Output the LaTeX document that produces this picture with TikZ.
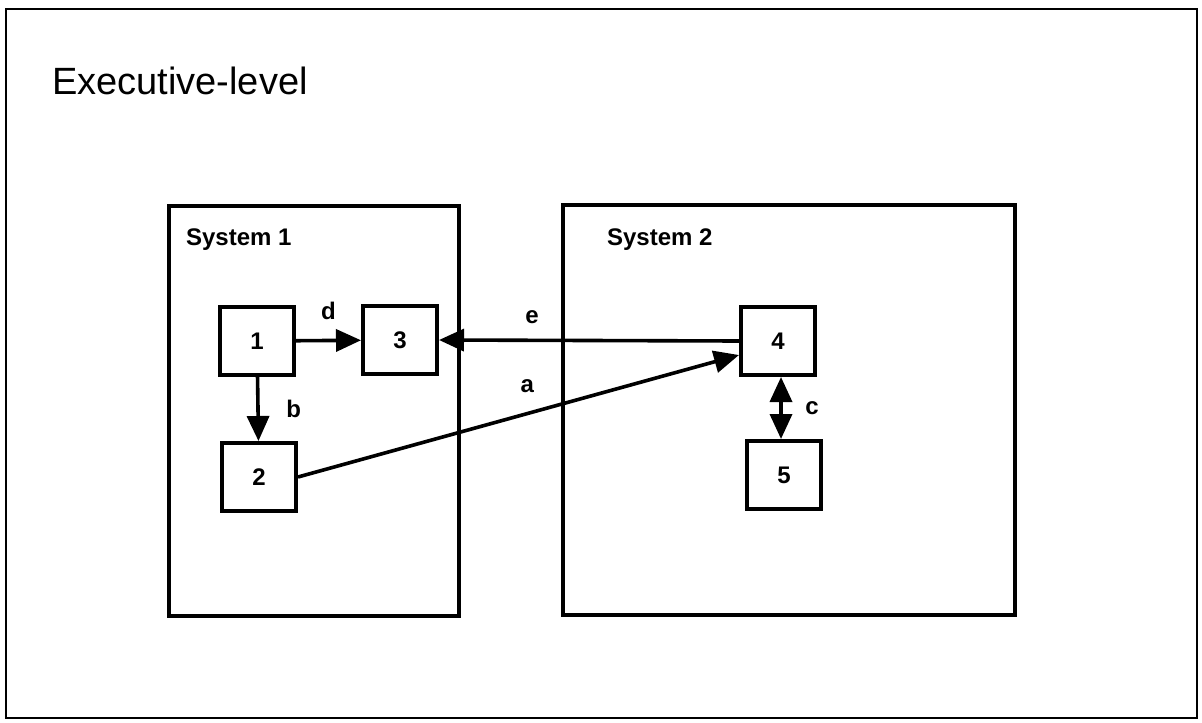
\documentclass[tikz,border=0pt]{standalone}
\usepackage{fontspec}
\setmainfont{Liberation Sans}
\usetikzlibrary{arrows.meta}

\tikzset{
  unit/.style={draw, line width=2pt, minimum width=37pt, minimum height=34pt, font=\fontsize{12}{14}\selectfont\bfseries},
  system/.style={draw, line width=1.8pt},
  lbl/.style={font=\fontsize{12}{14}\selectfont\bfseries},
  tip/.tip={Triangle[length=12.5pt,width=11pt]},
  flow/.style={line width=1.8pt, -tip},
}

\begin{document}
\begin{tikzpicture}[x=0.5pt, y=-0.5pt]
  \useasboundingbox (0,0) rectangle (1202,722);
  \draw[line width=1.2pt] (6,9) rectangle (1197,718);

  \node[anchor=base west, font=\fontsize{19}{22}\selectfont] (title) at (45,95) {Executive-level};

  \node[system, minimum width=145pt, minimum height=205pt] (sys1) at (314,411) {};
  \node[system, minimum width=226pt, minimum height=205pt] (sys2) at (789,410) {};
  \node[lbl, anchor=west] (sysa) at (179,240) {System 1};
  \node[lbl, anchor=west] (sysb) at (600,240) {System 2};

  \node[unit] (n1) at (257,341) {1};
  \node[unit] (n2) at (259,477) {2};
  \node[unit] (n3) at (400,340) {3};
  \node[unit] (n4) at (778,341) {4};
  \node[unit] (n5) at (784,475) {5};
  \coordinate (c4) at (781,341);

  \draw[flow] (n1) -- node[lbl, above=6pt] {d} (n3);
  \draw[flow] (n1) -- node[lbl, right=10pt] {b} (n2);
  \draw[flow] (n4.west) -- node[lbl, pos=0.69, above=4pt] {e} (n3.east);
  \draw[flow] (n2.east) -- node[lbl, pos=0.52, above=6pt] {a} ([yshift=-7pt]n4.west);
  \draw[flow, tip-tip] (c4 |- n4.south) -- node[lbl, right=8pt] {c} (c4 |- n5.north);
\end{tikzpicture}
\end{document}
